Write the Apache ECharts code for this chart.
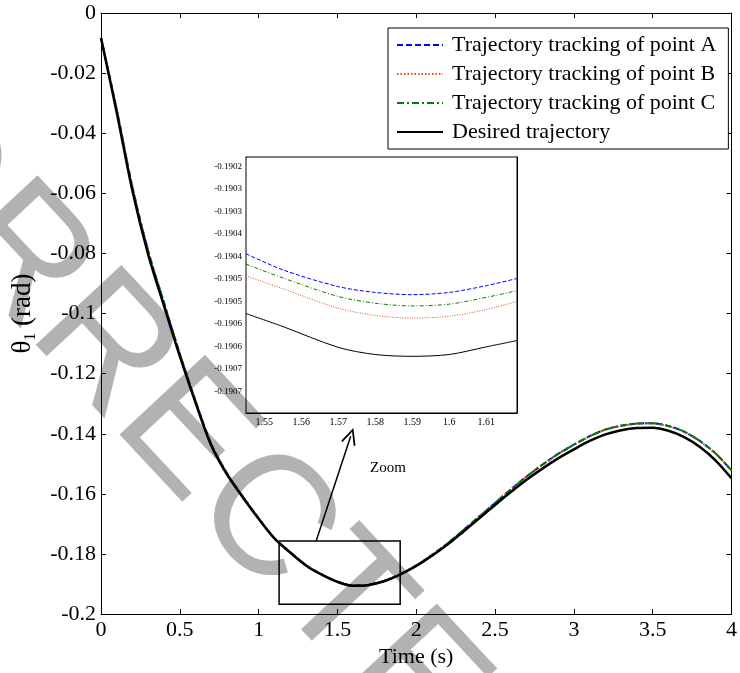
<!DOCTYPE html>
<html>
<head>
<meta charset="utf-8">
<script src="https://cdn.jsdelivr.net/npm/echarts@6/dist/echarts.min.js"></script>
<style>
  html, body { margin: 0; padding: 0; background: #fff; }
  #chart { width: 740px; height: 673px; }
</style>
</head>
<body>
<div id="chart"></div>
<script>
// Joint angle θ1 over time: three tracked points against the desired trajectory
const time = [0, 0.1, 0.2, 0.3, 0.4, 0.5, 0.6, 0.7, 0.8, 0.9, 1.0, 1.1, 1.2, 1.3, 1.4, 1.5, 1.6, 1.7, 1.8, 1.9,
  2.0, 2.1, 2.2, 2.3, 2.4, 2.5, 2.6, 2.7, 2.8, 2.9, 3.0, 3.1, 3.2, 3.3, 3.4, 3.5, 3.6, 3.7, 3.8, 3.9, 4.0];

const desired = [-0.0083, -0.0332, -0.0593, -0.0805, -0.0975, -0.1142, -0.1297, -0.1440, -0.1536, -0.1612,
  -0.1683, -0.1748, -0.1795, -0.1838, -0.1869, -0.1893, -0.1906, -0.1903, -0.1890, -0.1868,
  -0.1840, -0.1806, -0.1768, -0.1725, -0.1681, -0.1637, -0.1594, -0.1553, -0.1516, -0.1482,
  -0.1452, -0.1424, -0.1402, -0.1388, -0.1381, -0.1380, -0.1390, -0.1411, -0.1444, -0.1489, -0.1548];

const pointA = [-0.0083, -0.0322, -0.0581, -0.0793, -0.0965, -0.1134, -0.1291, -0.1435, -0.1532, -0.1609,
  -0.1681, -0.1747, -0.1794, -0.1837, -0.1868, -0.1892, -0.1905, -0.1902, -0.1889, -0.1867,
  -0.1838, -0.1803, -0.1764, -0.1720, -0.1675, -0.1630, -0.1585, -0.1542, -0.1503, -0.1467,
  -0.1436, -0.1408, -0.1386, -0.1373, -0.1366, -0.1365, -0.1374, -0.1393, -0.1424, -0.1466, -0.1522];

const pointB = [-0.0083, -0.0322, -0.0581, -0.0793, -0.0965, -0.1134, -0.1291, -0.1435, -0.1532, -0.1609,
  -0.1681, -0.1747, -0.1794, -0.1837, -0.1868, -0.1892, -0.1905, -0.1902, -0.1889, -0.1867,
  -0.1838, -0.1803, -0.1764, -0.1720, -0.1676, -0.1631, -0.1586, -0.1543, -0.1504, -0.1468,
  -0.1437, -0.1409, -0.1387, -0.1374, -0.1367, -0.1366, -0.1375, -0.1394, -0.1425, -0.1467, -0.1523];

const pointC = [-0.0083, -0.0322, -0.0581, -0.0793, -0.0965, -0.1134, -0.1291, -0.1435, -0.1532, -0.1609,
  -0.1681, -0.1747, -0.1794, -0.1837, -0.1868, -0.1892, -0.1905, -0.1902, -0.1889, -0.1867,
  -0.1838, -0.1803, -0.1764, -0.1720, -0.1675, -0.1630, -0.1586, -0.1542, -0.1503, -0.1467,
  -0.1436, -0.1408, -0.1386, -0.1373, -0.1366, -0.1365, -0.1374, -0.1393, -0.1424, -0.1466, -0.1522];

// Magnified view around the minimum
const zoomTime = [1.5451, 1.5551, 1.57, 1.58, 1.59, 1.60, 1.61, 1.6183];
const zoomA = [-0.190394, -0.190430, -0.190467, -0.190480, -0.190485, -0.190480, -0.190465, -0.190449];
const zoomB = [-0.190443, -0.190472, -0.190515, -0.190531, -0.190537, -0.190533, -0.190518, -0.190500];
const zoomC = [-0.190417, -0.190448, -0.190489, -0.190504, -0.190510, -0.190506, -0.190491, -0.190476];
const zoomDesired = [-0.190527, -0.190556, -0.190602, -0.190618, -0.190622, -0.190618, -0.190601, -0.190587];

const zoomXRange = [1.5451, 1.6183];
const zoomYRange = [-0.190748, -0.190179];
const zoomXTicks = [1.55, 1.56, 1.57, 1.58, 1.59, 1.60, 1.61];
const zoomYTicks = [-0.19020, -0.19025, -0.19030, -0.19035, -0.19040, -0.19045, -0.19050, -0.19055, -0.19060, -0.19065, -0.19070];
const zoomYLabels = ['-0.1902', '-0.1903', '-0.1903', '-0.1904', '-0.1904', '-0.1905', '-0.1905', '-0.1906', '-0.1906', '-0.1907', '-0.1907'];

// Zoom window on the main axes and the arrow leading to the magnified view
const zoomBox = [[1.13, -0.1757], [1.898, -0.1967]];
const zoomArrow = [[1.365, -0.1757], [1.584, -0.1408]];

const names = ['Trajectory tracking of point A', 'Trajectory tracking of point B',
  'Trajectory tracking of point C', 'Desired trajectory'];

const serif = 'Liberation Serif';
const pair = (xs, ys) => xs.map((x, i) => [x, ys[i]]);

const boxAxis = (extra) => Object.assign({
  type: 'value',
  splitLine: { show: false },
  axisLine: { show: true, onZero: false, lineStyle: { color: '#000', width: 1 } },
  axisTick: { show: true, inside: true, length: 5, lineStyle: { color: '#000', width: 1 } },
  axisLabel: { show: false }
}, extra);

const mainLabel = { show: true, color: '#000', fontFamily: serif, fontSize: 22, margin: 5 };

const styles = [
  { color: '#0000ff', type: [6, 3] },
  { color: '#d95319', type: [1.5, 2] },
  { color: '#008000', type: [7, 3, 2, 3] },
  { color: '#000000', type: 'solid' }
];

function lineSeries(name, data, idx, style, width, extra) {
  return Object.assign({
    type: 'line', name: name, data: data,
    xAxisIndex: idx, yAxisIndex: idx,
    showSymbol: false, symbol: 'none', smooth: 0.3,
    lineStyle: { color: style.color, width: width, type: style.type },
    itemStyle: { color: style.color },
    animation: false, silent: true
  }, extra || {});
}

const chart = echarts.init(document.getElementById('chart'), null, { renderer: 'canvas' });

chart.setOption({
  backgroundColor: '#fff',
  animation: false,
  grid: [
    { left: 101, right: 2, top: 13, bottom: 58 },
    { left: 246, top: 157, width: 271, height: 256, show: true, backgroundColor: '#fff', borderColor: '#000', borderWidth: 1, z: 3 }
  ],
  legend: {
    orient: 'vertical', left: 388, top: 28,
    data: names,
    backgroundColor: '#fff', borderColor: '#000', borderWidth: 1,
    padding: [6, 12, 6, 8], itemGap: 7, itemWidth: 46, itemHeight: 20,
    itemStyle: { color: 'rgba(0,0,0,0)', borderWidth: 0, opacity: 0 },
    textStyle: { fontFamily: serif, fontSize: 22, color: '#000', padding: [0, 0, 0, 4] },
    selectedMode: false, z: 20
  },
  xAxis: [
    boxAxis({ gridIndex: 0, position: 'bottom', min: 0, max: 4, interval: 0.5, axisLabel: mainLabel,
      name: 'Time (s)', nameLocation: 'middle', nameGap: 24,
      nameTextStyle: { fontFamily: serif, fontSize: 22, color: '#000' } }),
    boxAxis({ gridIndex: 0, position: 'top', min: 0, max: 4, interval: 0.5 }),
    boxAxis({ gridIndex: 1, position: 'bottom', min: zoomXRange[0], max: zoomXRange[1],
      axisTick: { show: true, inside: true, length: 3, customValues: zoomXTicks, lineStyle: { color: '#000' } },
      axisLabel: { show: true, customValues: zoomXTicks, color: '#000', fontFamily: serif, fontSize: 10, margin: 4 } }),
    boxAxis({ gridIndex: 1, position: 'top', min: zoomXRange[0], max: zoomXRange[1],
      axisTick: { show: true, inside: true, length: 3, customValues: zoomXTicks, lineStyle: { color: '#000' } } })
  ],
  yAxis: [
    boxAxis({ gridIndex: 0, position: 'left', min: -0.2, max: 0, interval: 0.02, axisLabel: mainLabel,
      name: '{t|θ}{s|1}{t| (rad)}', nameLocation: 'middle', nameGap: 62, nameRotate: 90,
      nameTextStyle: { fontFamily: serif, fontSize: 27, color: '#000',
        rich: {
          t: { fontFamily: serif, fontSize: 27, color: '#000', lineHeight: 32, verticalAlign: 'middle' },
          s: { fontFamily: serif, fontSize: 16, color: '#000', lineHeight: 16, verticalAlign: 'bottom' }
        } } }),
    boxAxis({ gridIndex: 0, position: 'right', min: -0.2, max: 0, interval: 0.02 }),
    boxAxis({ gridIndex: 1, position: 'left', min: zoomYRange[0], max: zoomYRange[1],
      axisTick: { show: true, inside: true, length: 3, customValues: zoomYTicks, lineStyle: { color: '#000' } },
      axisLabel: { show: true, customValues: zoomYTicks, color: '#000', fontFamily: serif, fontSize: 9, margin: 4,
        formatter: function (v) {
          let best = 0;
          zoomYTicks.forEach(function (t, i) { if (Math.abs(t - v) < Math.abs(zoomYTicks[best] - v)) best = i; });
          return zoomYLabels[best];
        } } }),
    boxAxis({ gridIndex: 1, position: 'right', min: zoomYRange[0], max: zoomYRange[1],
      axisTick: { show: true, inside: true, length: 3, customValues: zoomYTicks, lineStyle: { color: '#000' } } })
  ],
  series: [
    lineSeries(names[0], pair(time, pointA), 0, styles[0], 2),
    lineSeries(names[1], pair(time, pointB), 0, styles[1], 2),
    lineSeries(names[2], pair(time, pointC), 0, styles[2], 2),
    lineSeries(names[3], pair(time, desired), 0, styles[3], 2.5, {
      markArea: {
        silent: true,
        itemStyle: { color: 'rgba(0,0,0,0)', borderColor: '#000', borderWidth: 1.5 },
        label: { show: false },
        data: [[{ coord: zoomBox[0] }, { coord: zoomBox[1] }]]
      },
      markLine: {
        silent: true, animation: false,
        symbol: ['none', 'path://M0,20 L10,0 L20,20 L18,21.5 L10,5 L2,21.5 Z'],
        symbolSize: [15, 17],
        lineStyle: { color: '#000', width: 1.5, type: 'solid' },
        label: { show: false },
        data: [[{ coord: zoomArrow[0] }, { coord: zoomArrow[1] }]]
      }
    }),
    lineSeries(names[0], pair(zoomTime, zoomA), 2, { color: '#0000ff', type: [4, 2] }, 1, { z: 5 }),
    lineSeries(names[1], pair(zoomTime, zoomB), 2, { color: '#d95319', type: [1, 1.5] }, 1, { z: 5 }),
    lineSeries(names[2], pair(zoomTime, zoomC), 2, { color: '#008000', type: [4, 2, 1, 2] }, 1, { z: 5 }),
    lineSeries(names[3], pair(zoomTime, zoomDesired), 2, { color: '#000000', type: 'solid' }, 1, { z: 5 })
  ],
  graphic: [
    { type: 'text', left: 370, top: 461, silent: true, z: 10,
      style: { text: 'Zoom', fontFamily: serif, fontSize: 15, fill: '#000' } },
    { type: 'text', x: 170, y: 420, rotation: -47 * Math.PI / 180, silent: true, z: 100,
      style: { text: 'CORRECTED', fontFamily: 'Liberation Sans', fontSize: 170,
        fill: 'rgba(0,0,0,0.3)', align: 'center', verticalAlign: 'middle' } }
  ]
});
</script>
</body>
</html>
